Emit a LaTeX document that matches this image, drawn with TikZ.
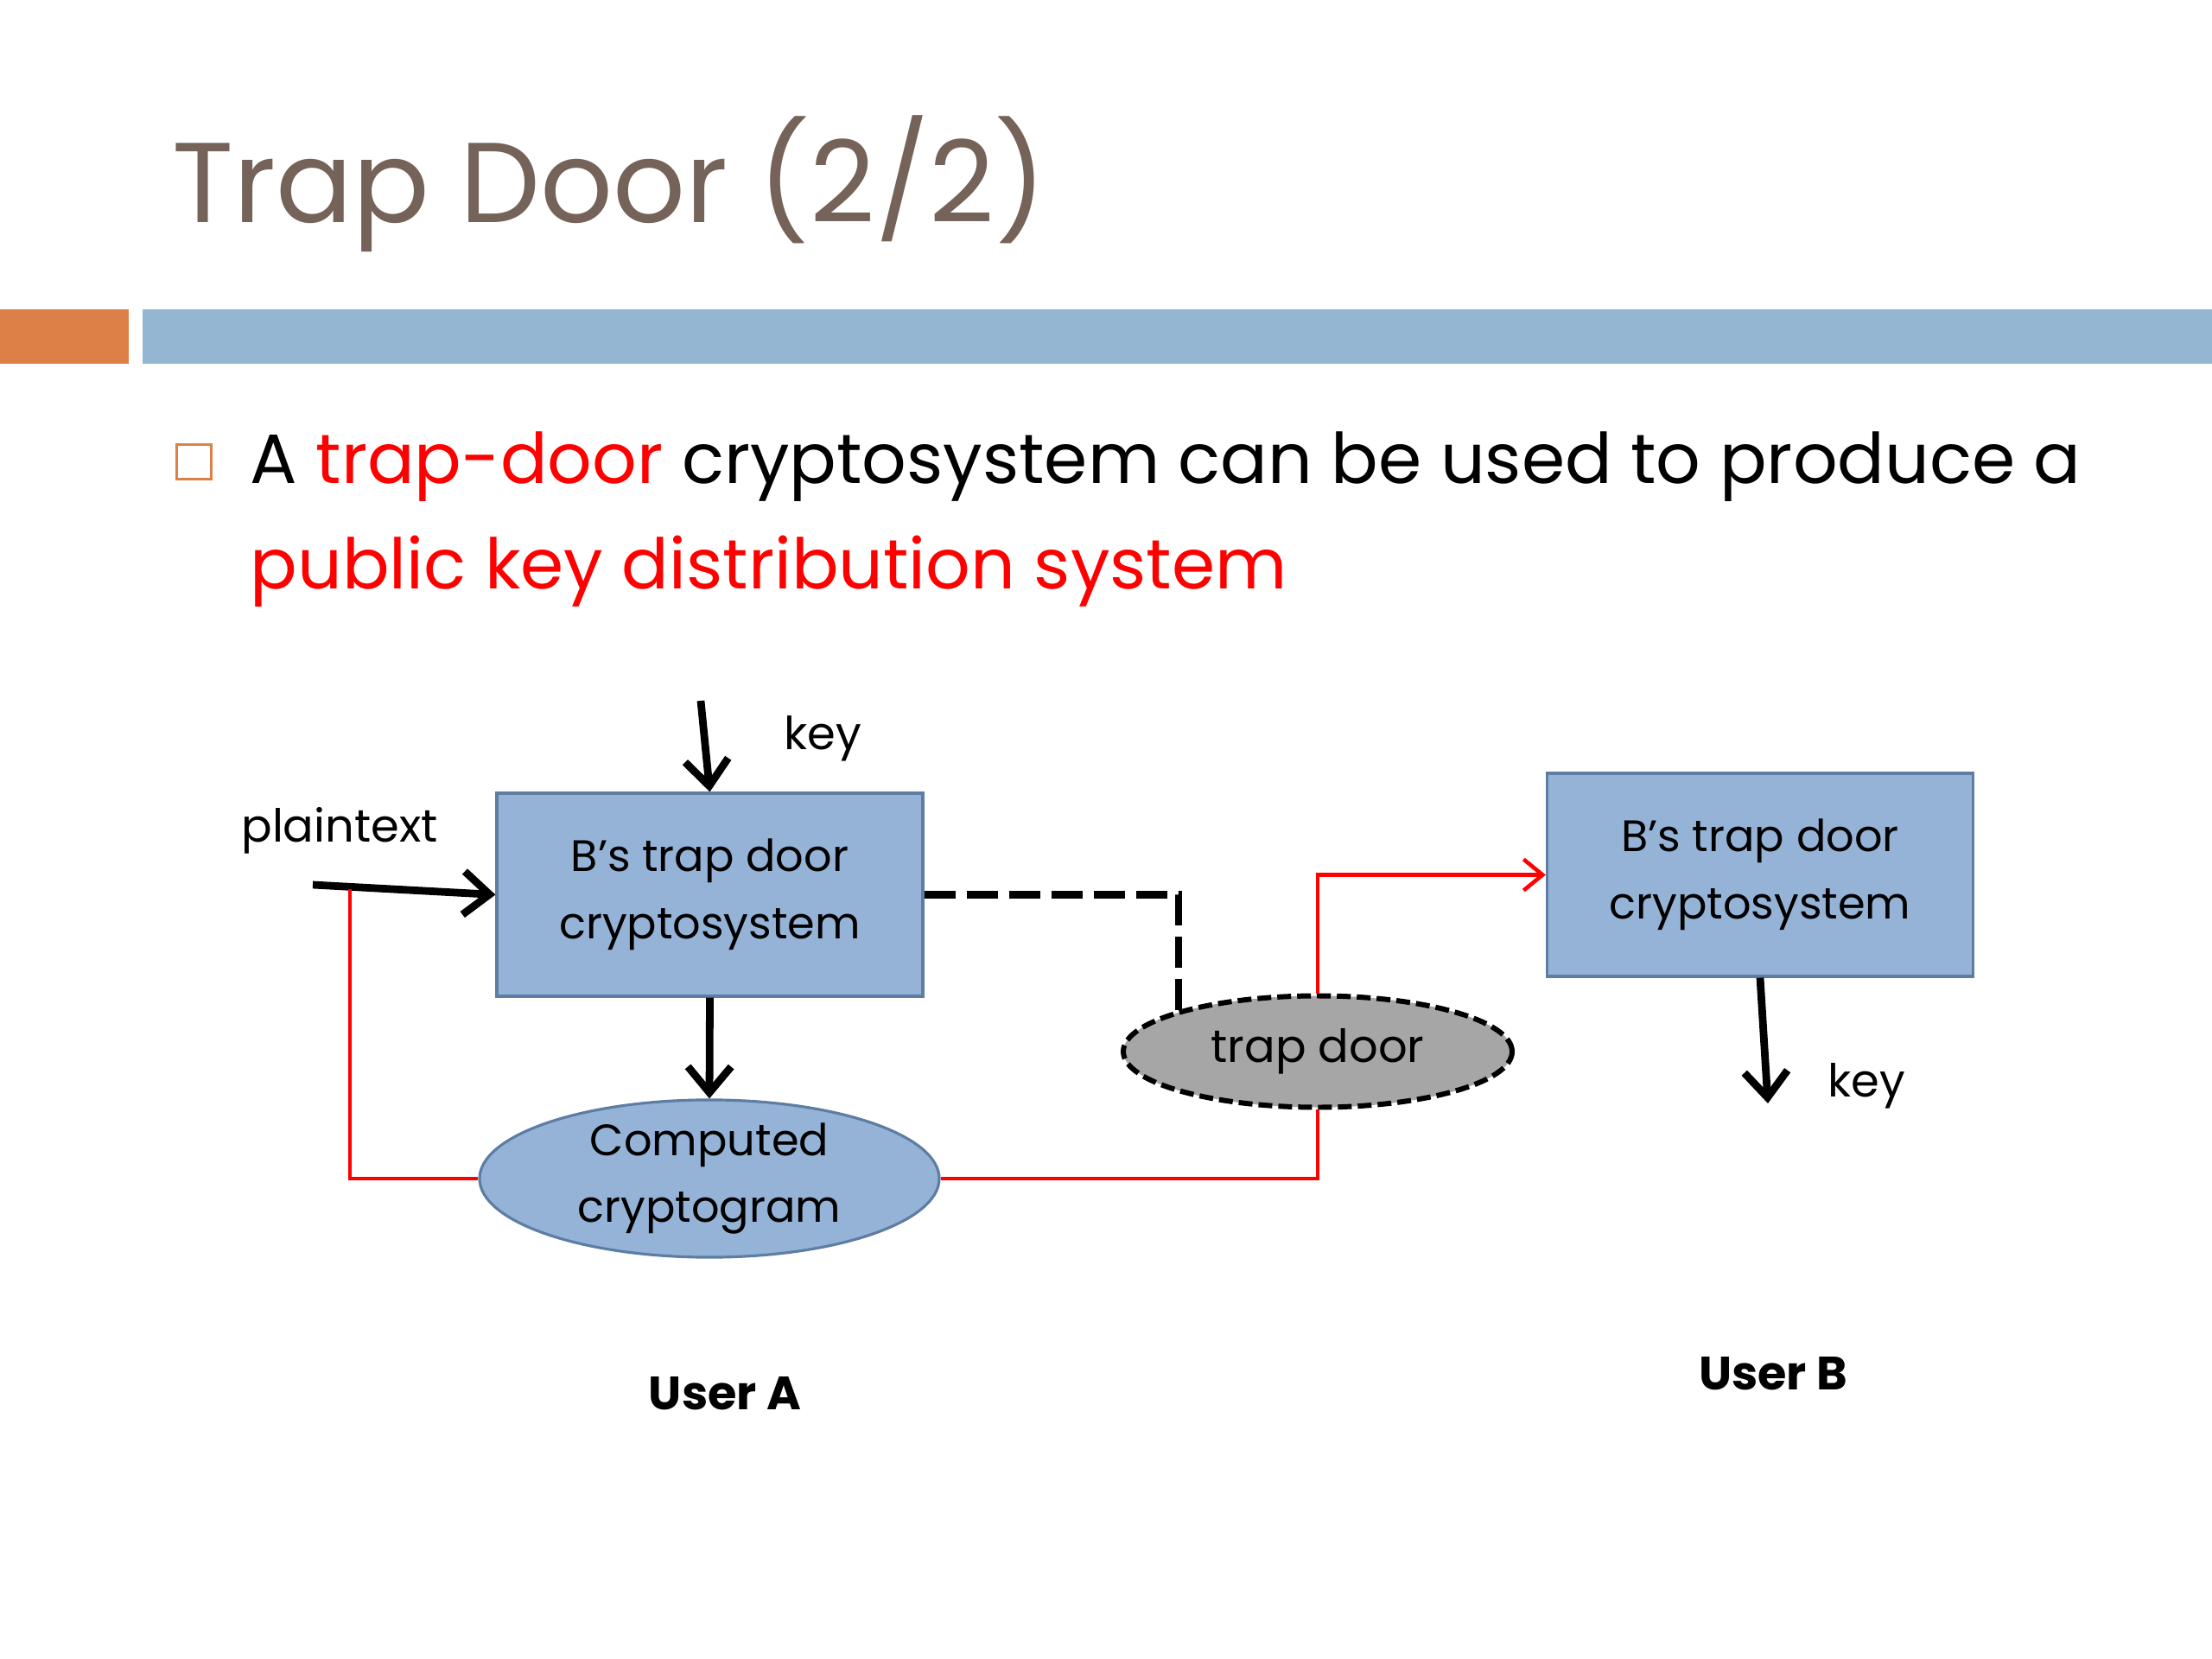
\documentclass[tikz,border=0pt]{standalone}
\usepackage{fontspec}
\setmainfont{Poppins}
\definecolor{tdtitle}{RGB}{117,99,89}
\definecolor{tdorange}{RGB}{221,128,71}
\definecolor{tdbar}{RGB}{148,182,210}
\definecolor{tdblue}{RGB}{149,179,215}
\definecolor{tdedge}{RGB}{93,125,163}
\definecolor{tdgray}{RGB}{166,166,166}
\definecolor{tdred}{RGB}{255,0,0}
\usetikzlibrary{arrows.meta,positioning,shapes.geometric,calc}

\tikzset{
  cryptobox/.style={draw=tdedge, fill=tdblue, line width=0.9pt, minimum width=4.93cm, minimum height=2.35cm, inner sep=0pt, align=center, font=\fontsize{14.5}{22.2}\selectfont},
  cryptoval/.style={ellipse, draw=tdedge, fill=tdblue, line width=0.9pt, minimum width=5.32cm, minimum height=1.72cm, inner sep=0pt, align=center, font=\fontsize{14.5}{22}\selectfont},
  trapval/.style={ellipse, draw=black, fill=tdgray, line width=1.7pt, dash pattern=on 0.16cm off 0.07cm, minimum width=4.5cm, minimum height=1.29cm, inner sep=0pt, font=\fontsize{15}{20}\selectfont},
  lbl/.style={inner sep=0pt, font=\fontsize{15}{20}\selectfont},
  userlbl/.style={inner sep=0pt, font=\fontsize{15.4}{20}\selectfont\bfseries},
  blackarrow/.style={-{Straight Barb[length=0.3cm,width=0.5cm]}, line width=2.5pt, black},
  redline/.style={tdred, line width=1.3pt},
  redarrow/.style={redline, -{Straight Barb[length=0.22cm,width=0.36cm]}}
}

\begin{document}
\begin{tikzpicture}
  \fill[white] (0,0) rectangle (25.6,-19.2);
  \useasboundingbox (0,0) rectangle (25.6,-19.2);

  % Slide header
  \node[anchor=base west, inner sep=0pt, text=tdtitle, font=\fontsize{37.4}{44}\selectfont] (title) at (1.99,-2.58) {Trap Door (2/2)};
  \fill[tdorange] (0,-3.58) rectangle (1.49,-4.21);
  \fill[tdbar] (1.65,-3.58) rectangle (25.6,-4.21);

  % Bullet text
  \node[draw=tdorange, line width=1pt, minimum size=0.4cm, inner sep=0pt] (bullet) at (2.245,-5.345) {};
  \node[anchor=base west, inner sep=0pt, font=\fontsize{23}{28}\selectfont] (line1) at (2.89,-5.60) {A \textcolor{tdred}{trap-door} cryptosystem can be used to produce a};
  \node[anchor=base west, inner sep=0pt, text=tdred, font=\fontsize{23}{28}\selectfont] (line2) at (2.89,-6.82) {public key distribution system};

  % User A side
  \node[cryptobox] (boxA) at (8.215,-10.355) {B’s trap door\\cryptosystem};
  \node[cryptoval] (crypt) at (8.21,-13.64) {Computed\\cryptogram};
  \coordinate (keyinA) at (8.11,-8.11);
  \coordinate (plainin) at (3.62,-10.24);
  \coordinate (tap) at (4.05,-10.29);
  \node[lbl] (keyA) at (9.52,-8.55) {key};
  \node[lbl] (plain) at (3.93,-9.61) {plaintext};

  \draw[blackarrow] (keyinA) -- (boxA.north);
  \draw[blackarrow] (plainin) -- (boxA.west);
  \draw[blackarrow] (boxA.south) -- (crypt.north);
  \draw[redline] (tap) |- (crypt.west);

  % Trap door in the middle
  \node[trapval] (trap) at (15.25,-12.17) {trap door};
  \draw[line width=2.3pt, dash pattern=on 0.36cm off 0.13cm] (boxA.east) -| (trap.north west);
  \draw[redline] (crypt.east) -| (trap.south);

  % User B side
  \node[cryptobox] (boxB) at (20.37,-10.125) {B’s trap door\\cryptosystem};
  \coordinate (keyoutB) at (20.46,-12.77);
  \node[lbl] (keyB) at (21.60,-12.57) {key};
  \draw[redarrow] (trap.north) |- (boxB.west);
  \draw[blackarrow] (boxB.south) -- (keyoutB);

  \node[userlbl] (userA) at (8.39,-16.13) {User A};
  \node[userlbl] (userB) at (20.52,-15.90) {User B};
\end{tikzpicture}
\end{document}
